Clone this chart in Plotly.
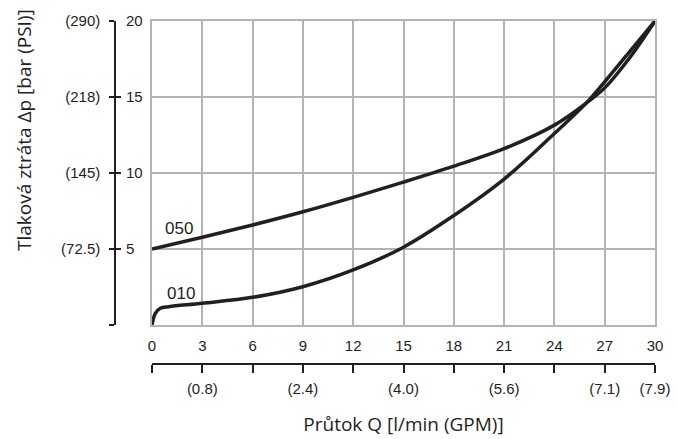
import plotly.graph_objects as go

# Data (Q in l/min, dp in bar)
q_050 = [0, 3, 6, 9, 12, 15, 18, 21, 24, 25.9, 27, 28.5, 30]
p_050 = [5.0, 5.77, 6.58, 7.45, 8.4, 9.4, 10.45, 11.6, 13.15, 14.6, 15.6, 17.6, 20.0]

q_010 = [0, 0.2, 0.5, 1, 3, 6, 9, 12, 15, 18, 21, 24, 25.9, 27, 28.5, 30]
p_010 = [0.0, 0.77, 1.1, 1.2, 1.43, 1.82, 2.52, 3.62, 5.12, 7.2, 9.6, 12.6, 14.6, 16.0, 18.0, 20.0]

x_ticks = [0, 3, 6, 9, 12, 15, 18, 21, 24, 27, 30]
gpm_text = ["", "(0.8)", "", "(2.4)", "", "(4.0)", "", "(5.6)", "", "(7.1)", "(7.9)"]
bar_ticks = [5, 10, 15, 20]
bar_text = ["5", "10", "15", "20"]
psi_ticks = [0, 5, 10, 15, 20]
psi_text = ["", "(72.5)", "(145)", "(218)", "(290)"]

W, H = 678, 439
ML, MR, MT, MB = 100, 23, 21, 60
pw = W - ML - MR
ph = H - MT - MB
x0 = (152 - ML) / pw
yaxis_pos = (115 - ML) / pw
y0 = (H - MB - 325) / ph
xaxis2_pos = (H - MB - 364) / ph

tick_font = dict(family="Liberation Sans, Arial", size=15, color="#231f20")
label_font = dict(family="Liberation Sans, Arial", size=17, color="#231f20")
title_font = dict(family="Open Sans, Noto Sans", size=19, color="#231f20")
ink = "#231f20"
grid = "#b1b3b6"

fig = go.Figure()
fig.add_trace(go.Scatter(x=q_050, y=p_050, mode="lines",
                         line=dict(color=ink, width=3.5, shape="spline", smoothing=1.0),
                         showlegend=False, hoverinfo="skip"))
fig.add_trace(go.Scatter(x=q_010, y=p_010, mode="lines",
                         line=dict(color=ink, width=3.5, shape="spline", smoothing=1.0),
                         showlegend=False, hoverinfo="skip"))
# invisible traces so that the secondary axes are drawn
for xa, ya in [("x2", "y"), ("x", "y2"), ("x", "y3"), ("x", "y4")]:
    fig.add_trace(go.Scatter(x=[0], y=[0], xaxis=xa, yaxis=ya, mode="markers",
                             marker=dict(opacity=0, size=1), showlegend=False, hoverinfo="skip"))

fig.add_annotation(x=1.6, y=6.38, text="050", showarrow=False, xanchor="center", yanchor="middle",
                   font=label_font)
fig.add_annotation(x=1.7, y=2.07, text="010", showarrow=False, xanchor="center", yanchor="middle",
                   font=label_font)
fig.add_annotation(x=(24 - ML) / pw, y=(H - MB - 130) / ph, xref="paper", yref="paper",
                   text="Tlaková ztráta Δp [bar (PSI)]", textangle=-90, showarrow=False,
                   xanchor="center", yanchor="middle", font=title_font)

fig.update_layout(
    width=W, height=H,
    margin=dict(l=ML, r=MR, t=MT, b=MB, autoexpand=False),
    paper_bgcolor="white", plot_bgcolor="white",
    xaxis=dict(domain=[x0, 1], range=[0, 30], tickvals=x_ticks, ticktext=[str(v) for v in x_ticks],
               showgrid=True, gridcolor=grid, gridwidth=1.5, zeroline=False,
               showline=True, linecolor=grid, linewidth=1.5, mirror=True,
               ticks="", ticklabelstandoff=6, tickfont=tick_font, anchor="y", fixedrange=True),
    yaxis=dict(domain=[y0, 1], range=[0, 20], tickvals=[0, 5, 10, 15, 20], showticklabels=False,
               showgrid=True, gridcolor=grid, gridwidth=1.5, zeroline=False,
               showline=True, linecolor=grid, linewidth=1.5, mirror=True,
               ticks="", anchor="x", fixedrange=True),
    xaxis2=dict(domain=[x0, 1], range=[0, 30], overlaying="x", anchor="free", position=xaxis2_pos,
                side="bottom", tickvals=x_ticks, ticktext=gpm_text, showgrid=False, zeroline=False,
                showline=True, linecolor=ink, linewidth=1.5, ticks="outside", ticklen=8,
                tickwidth=1.5, tickcolor=ink, tickfont=tick_font, ticklabelstandoff=3,
                title=dict(text="Průtok Q [l/min (GPM)]", font=title_font, standoff=21),
                fixedrange=True),
    yaxis2=dict(domain=[y0, 1], range=[0, 20], overlaying="y", anchor="free", position=yaxis_pos,
                side="left", tickvals=psi_ticks, ticktext=psi_text, showgrid=False, zeroline=False,
                showline=True, linecolor=ink, linewidth=1.5, ticks="outside", ticklen=5,
                tickwidth=1.5, tickcolor=ink, tickfont=tick_font, ticklabelstandoff=6,
                fixedrange=True),
    yaxis3=dict(domain=[y0, 1], range=[0, 20], overlaying="y", anchor="free", position=yaxis_pos,
                side="right", tickvals=bar_ticks, ticktext=bar_text, showgrid=False, zeroline=False,
                showline=False, ticks="", tickfont=tick_font, ticklabelstandoff=10,
                fixedrange=True),
    yaxis4=dict(domain=[y0, 1], range=[0, 20], overlaying="y", anchor="free", position=yaxis_pos,
                side="right", tickvals=[5, 10, 15], showticklabels=False, showgrid=False, zeroline=False,
                showline=False, ticks="outside", ticklen=5, tickwidth=1.5, tickcolor=ink,
                fixedrange=True),
)

fig.write_html("out.html", config={"displayModeBar": False},
               post_script="document.body.style.margin='0';")
